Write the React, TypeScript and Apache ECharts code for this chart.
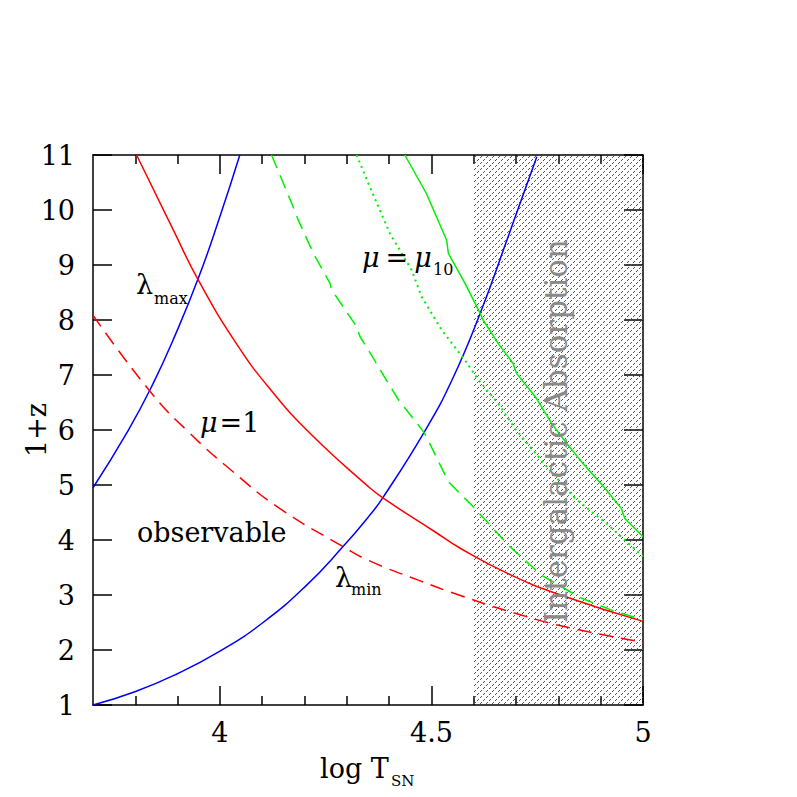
import React, { useEffect, useRef } from 'react';
import * as echarts from 'echarts';

const X_MIN = 3.7;
const X_MAX = 5;
const Y_MIN = 1;
const Y_MAX = 11;
const Y_INTERVAL = 1;
const xMajorTicks = [4, 4.5, 5];
const xMinorTicks = [3.8, 3.9, 4.1, 4.2, 4.3, 4.4, 4.6, 4.7, 4.8, 4.9];
const absorptionRange = [4.6, 5.0];

// lambda_max (blue, left)
const blueMax: number[][] = [
  [3.7, 4.95], [3.783, 5.99], [3.838, 6.78], [3.894, 7.72], [3.95, 8.78], [4.0, 9.88], [4.047, 11.0],
];
// lambda_min (blue, right)
const blueMin: number[][] = [
  [3.7, 1.0], [3.799, 1.24], [3.897, 1.56], [4.0, 1.98], [4.102, 2.5], [4.205, 3.18], [4.291, 3.88],
  [4.351, 4.42], [4.386, 4.78], [4.485, 5.99], [4.548, 6.9], [4.615, 8.12], [4.681, 9.51], [4.749, 10.97],
];
// red solid
const redSolid: number[][] = [
  [3.803, 11.0], [3.894, 9.57], [3.95, 8.71], [4.039, 7.57], [4.118, 6.75], [4.213, 5.94], [4.351, 4.97],
  [4.386, 4.76], [4.508, 4.15], [4.568, 3.85], [4.686, 3.37], [4.805, 3.0], [5.0, 2.52],
];
// red dashed (mu = 1)
const redDashed: number[][] = [
  [3.7, 8.09], [3.835, 6.7], [3.925, 5.97], [4.031, 5.24], [4.142, 4.57], [4.291, 3.88], [4.351, 3.63],
  [4.469, 3.27], [4.565, 3.0], [4.71, 2.64], [4.829, 2.4], [5.0, 2.14],
];
// green solid (mu = mu10)
const greenSolid: number[][] = [
  [4.437, 11.0], [4.488, 10.3], [4.536, 9.45], [4.54, 9.21], [4.579, 8.67], [4.615, 8.12], [4.622, 8.0],
  [4.658, 7.57], [4.693, 7.21], [4.701, 7.03], [4.745, 6.61], [4.784, 6.12], [4.816, 5.79], [4.855, 5.42],
  [4.91, 4.94], [4.949, 4.57], [4.957, 4.39], [5.0, 4.06],
];
// green dotted
const greenDotted: number[][] = [
  [4.323, 11.0], [4.351, 10.48], [4.402, 9.57], [4.453, 8.91], [4.477, 8.42], [4.524, 7.82], [4.579, 7.27],
  [4.611, 6.91], [4.658, 6.48], [4.7, 6.0], [4.776, 5.3], [4.839, 4.76], [4.918, 4.27], [5.0, 3.7],
];
// green dashed
const greenDashed: number[][] = [
  [4.122, 11.0], [4.173, 10.06], [4.185, 9.82], [4.221, 9.21], [4.26, 8.67], [4.264, 8.55], [4.323, 7.88],
  [4.331, 7.7], [4.351, 7.45], [4.398, 6.85], [4.422, 6.55], [4.481, 5.97], [4.488, 5.88], [4.54, 5.06],
  [4.603, 4.57], [4.681, 3.91], [4.76, 3.36], [4.855, 2.94], [4.934, 2.7], [5.0, 2.55],
];

const FONT = 'DejaVu Serif';
const RED = '#ff0000';
const BLUE = '#0000ff';
const GREEN = '#00f000';

function txt(text: string, x: number, y: number, size: number, extra: any = {}, rot = 0, align = 'left') {
  return {
    type: 'text',
    x,
    y,
    rotation: rot,
    z: 50,
    silent: true,
    style: {
      text,
      fontSize: size,
      fontFamily: FONT,
      fill: '#000',
      align,
      verticalAlign: 'middle',
      textAlign: align,
      textVerticalAlign: 'middle',
      ...extra,
    },
  };
}

export default function App() {
  const ref = useRef<HTMLDivElement>(null);
  useEffect(() => {
    if (!ref.current) return;
    const chart = echarts.init(ref.current, null, { renderer: 'svg' });

    const c = document.createElement('canvas');
    c.width = 6;
    c.height = 6;
    const ctx = c.getContext('2d')!;
    ctx.fillStyle = '#555';
    [[0, 1], [1, 0], [3, 4], [4, 3]].forEach(([px, py]) => ctx.fillRect(px, py, 1, 1));
    const pattern: any = { image: c.toDataURL(), repeat: 'repeat', imageWidth: 6, imageHeight: 6 };

    const grid = { left: 93, top: 155, width: 550, height: 550 };
    const frameLine = { show: true, onZero: false, lineStyle: { color: '#000', width: 1.5 } };
    const labelStyle = { fontSize: 27, fontFamily: FONT, color: '#000' };

    const line = (name: string, data: number[][], color: string, type: any, smooth: any, width = 1.5) => ({
      type: 'line',
      name,
      data,
      xAxisIndex: 0,
      yAxisIndex: 0,
      symbol: 'none',
      smooth,
      silent: true,
      z: 3,
      lineStyle: { color, width, type },
    });

    const option: any = {
      animation: false,
      backgroundColor: '#fff',
      grid: [grid, grid],
      xAxis: [
        {
          gridIndex: 0, type: 'value', min: X_MIN, max: X_MAX, position: 'bottom',
          axisLine: frameLine,
          axisTick: { show: true, inside: true, length: 19, customValues: xMajorTicks, lineStyle: { color: '#000', width: 1.5 } },
          axisLabel: { show: true, customValues: xMajorTicks, margin: 14, ...labelStyle },
          splitLine: { show: false },
        },
        {
          gridIndex: 0, type: 'value', min: X_MIN, max: X_MAX, position: 'top',
          axisLine: frameLine,
          axisTick: { show: true, inside: true, length: 19, customValues: xMajorTicks, lineStyle: { color: '#000', width: 1.5 } },
          axisLabel: { show: false },
          splitLine: { show: false },
        },
        {
          gridIndex: 1, type: 'value', min: X_MIN, max: X_MAX, position: 'bottom',
          axisLine: { show: false },
          axisTick: { show: true, inside: true, length: 9, customValues: xMinorTicks, lineStyle: { color: '#000', width: 1.5 } },
          axisLabel: { show: false },
          splitLine: { show: false },
        },
        {
          gridIndex: 1, type: 'value', min: X_MIN, max: X_MAX, position: 'top',
          axisLine: { show: false },
          axisTick: { show: true, inside: true, length: 9, customValues: xMinorTicks, lineStyle: { color: '#000', width: 1.5 } },
          axisLabel: { show: false },
          splitLine: { show: false },
        },
      ],
      yAxis: [
        {
          gridIndex: 0, type: 'value', min: Y_MIN, max: Y_MAX, interval: Y_INTERVAL, position: 'left',
          axisLine: frameLine,
          axisTick: { show: true, inside: true, length: 19, lineStyle: { color: '#000', width: 1.5 } },
          axisLabel: { show: true, margin: 18, ...labelStyle },
          splitLine: { show: false },
        },
        {
          gridIndex: 0, type: 'value', min: Y_MIN, max: Y_MAX, interval: Y_INTERVAL, position: 'right',
          axisLine: frameLine,
          axisTick: { show: true, inside: true, length: 19, lineStyle: { color: '#000', width: 1.5 } },
          axisLabel: { show: false },
          splitLine: { show: false },
        },
        { gridIndex: 1, type: 'value', min: Y_MIN, max: Y_MAX, show: false },
      ],
      series: [
        {
          type: 'line',
          name: 'absorption',
          data: [],
          xAxisIndex: 0,
          yAxisIndex: 0,
          symbol: 'none',
          silent: true,
          markArea: {
            silent: true,
            z: 1,
            itemStyle: { color: pattern, borderWidth: 0 },
            data: [[{ xAxis: absorptionRange[0] }, { xAxis: absorptionRange[1] }]],
          },
        },
        line('blueMax', blueMax, BLUE, 'solid', true),
        line('blueMin', blueMin, BLUE, 'solid', true),
        line('redSolid', redSolid, RED, 'solid', true),
        line('redDashed', redDashed, RED, [14, 8], true),
        line('greenSolid', greenSolid, GREEN, 'solid', false),
        line('greenDotted', greenDotted, GREEN, [2, 4], false, 2),
        line('greenDashed', greenDashed, GREEN, [14, 8], false),
      ],
      graphic: [
        txt('Intergalactic Absorption', 556, 431, 31, { fill: '#8a8a8a' }, Math.PI / 2, 'center'),
        txt('1+z', 36, 430, 27, {}, Math.PI / 2, 'center'),
        txt('log T', 320, 768, 27),
        txt('SN', 391, 781, 15),
        txt('λ', 136, 284.5, 27),
        txt('max', 154, 298.5, 16),
        txt('λ', 335, 577.5, 27),
        txt('min', 351, 589.5, 16),
        txt('observable', 137, 532.5, 27),
        txt('{i|μ}{n|=1}', 200, 422.5, 27, {
          rich: {
            i: { fontSize: 27, fontFamily: FONT, fontStyle: 'italic', fill: '#000' },
            n: { fontSize: 27, fontFamily: FONT, fill: '#000', padding: [0, 0, 0, 2] },
          },
        }),
        txt('{i|μ}{n|=}{i|μ}', 362, 257.5, 27, {
          rich: {
            i: { fontSize: 27, fontFamily: FONT, fontStyle: 'italic', fill: '#000' },
            n: { fontSize: 27, fontFamily: FONT, fill: '#000', padding: [0, 6, 0, 6] },
          },
        }),
        txt('10', 433, 269.5, 16),
      ],
    };
    chart.setOption(option);
    return () => chart.dispose();
  }, []);
  return <div ref={ref} style={{ position: 'fixed', left: 0, top: 0, width: 797, height: 797 }} />;
}
